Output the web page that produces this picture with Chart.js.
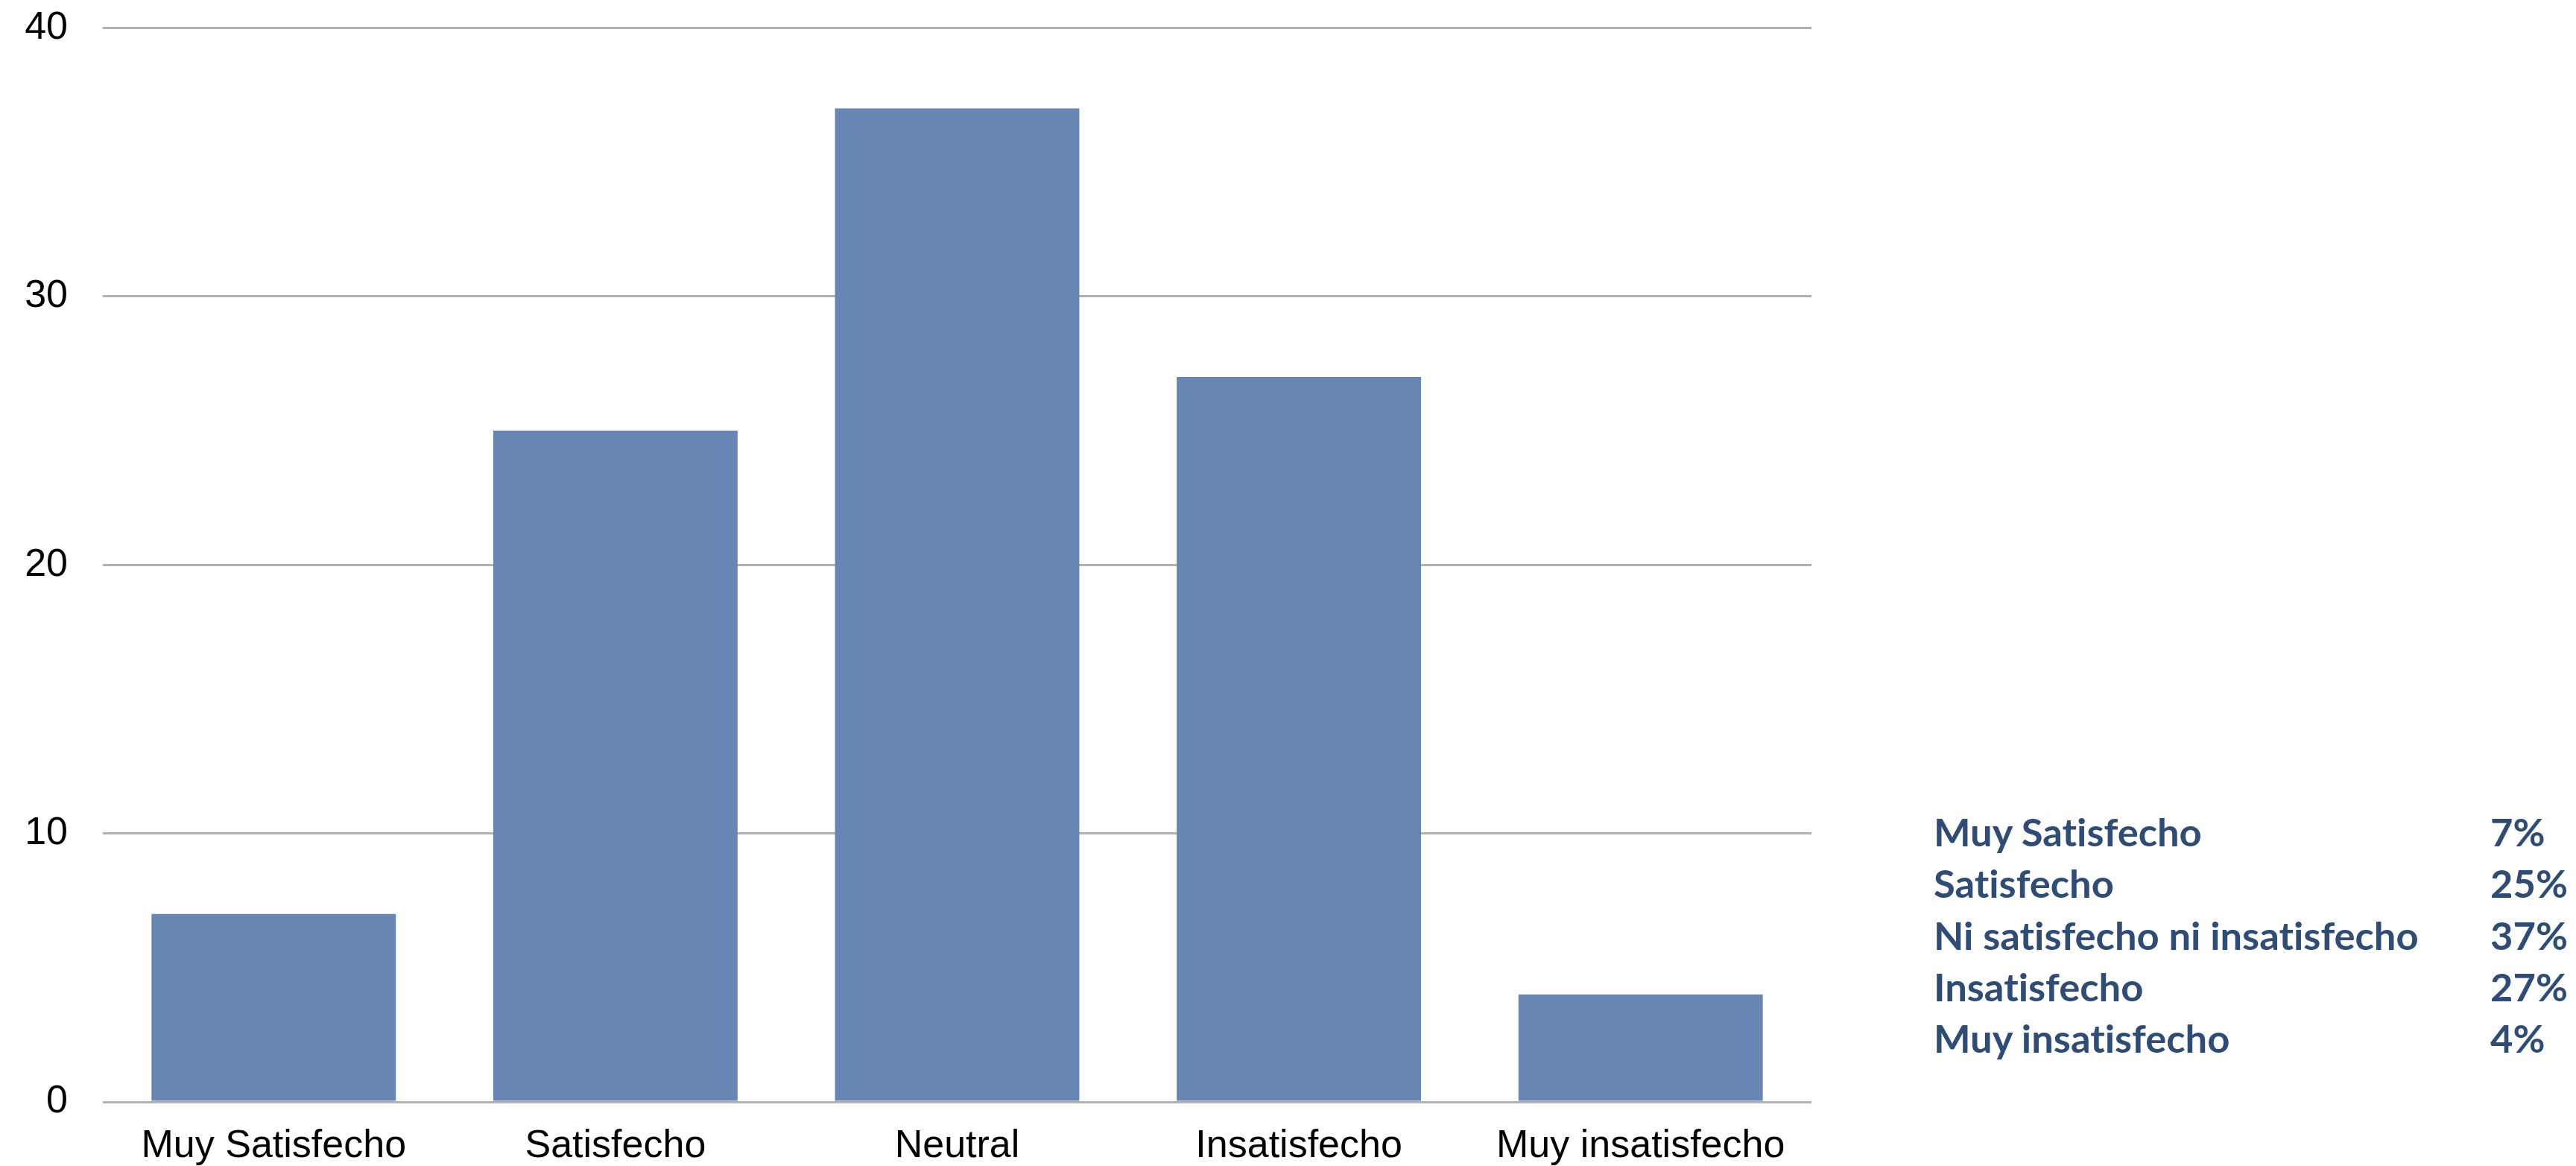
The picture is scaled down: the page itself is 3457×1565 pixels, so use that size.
<!DOCTYPE html>
<html lang="es">
<head>
<meta charset="utf-8">
<title>Nivel de satisfacción</title>
<script src="https://cdn.jsdelivr.net/npm/chart.js@4/dist/chart.umd.min.js"></script>
<style>
  html, body { margin: 0; padding: 0; background: #ffffff; }
  body { width: 3457px; height: 1565px; position: relative; overflow: hidden; }
  #chartBox { position: absolute; left: 0; top: 0; width: 2450px; height: 1565px; }
  #summary {
    position: absolute; left: 2595px; top: 1081px;
    font-family: "Lato", "Open Sans", sans-serif; font-weight: 700;
    font-size: 52.5px; line-height: 69.3px; color: #2f4c77;
    font-variant-ligatures: none; font-feature-settings: "liga" 0, "clig" 0;
  }
  #summary .row { position: relative; height: 69.3px; white-space: nowrap; }
  #summary .pct { position: absolute; left: 747px; top: 0; }
</style>
</head>
<body>
<div id="chartBox"><canvas id="chart"></canvas></div>
<div id="summary"></div>
<script>
// Categories along the x axis
const categories = ['Muy Satisfecho', 'Satisfecho', 'Neutral', 'Insatisfecho', 'Muy insatisfecho'];
// Number of responses per category
const responses = [7, 25, 37, 27, 4];
// Labels of the summary table on the right
const summaryLabels = ['Muy Satisfecho', 'Satisfecho', 'Ni satisfecho ni insatisfecho', 'Insatisfecho', 'Muy insatisfecho'];
// Y axis tick values
const yTicks = [0, 10, 20, 30, 40];

// Summary table: label and share of the total
const total = responses.reduce((a, b) => a + b, 0);
const summary = document.getElementById('summary');
summaryLabels.forEach((label, i) => {
  const row = document.createElement('div');
  row.className = 'row';
  const name = document.createElement('span');
  name.textContent = label;
  const pct = document.createElement('span');
  pct.className = 'pct';
  pct.textContent = Math.round(responses[i] / total * 100) + '%';
  row.appendChild(name);
  row.appendChild(pct);
  summary.appendChild(row);
});

new Chart(document.getElementById('chart'), {
  type: 'bar',
  data: {
    labels: categories,
    datasets: [{
      data: responses,
      backgroundColor: '#6886b3',
      borderWidth: 0,
      barPercentage: 0.715,
      categoryPercentage: 1.0
    }]
  },
  options: {
    responsive: true,
    maintainAspectRatio: false,
    animation: false,
    devicePixelRatio: 1,
    layout: { padding: { top: 37.5, right: 19, bottom: 0, left: 0 } },
    plugins: { legend: { display: false }, tooltip: { enabled: false } },
    scales: {
      x: {
        afterFit(scale) {
          scale.height = 86;
          scale.paddingLeft = 0;
          scale.paddingRight = 0;
        },
        grid: { display: false, drawTicks: false },
        border: { display: false },
        ticks: {
          color: '#000000',
          padding: 28,
          maxRotation: 0,
          autoSkip: false,
          font: { family: '"Liberation Sans", Arial, sans-serif', size: 52 }
        }
      },
      y: {
        min: yTicks[0],
        max: yTicks[yTicks.length - 1],
        afterFit(scale) {
          scale.width = 138;
          scale.paddingTop = 0;
          scale.paddingBottom = 0;
        },
        afterBuildTicks(scale) { scale.ticks = yTicks.map(v => ({ value: v })); },
        grid: { color: '#b2b2b2', lineWidth: 3, drawTicks: false },
        border: { display: false },
        ticks: {
          color: '#000000',
          padding: 47,
          font: { family: '"Liberation Sans", Arial, sans-serif', size: 52 }
        }
      }
    }
  }
});
</script>
</body>
</html>
